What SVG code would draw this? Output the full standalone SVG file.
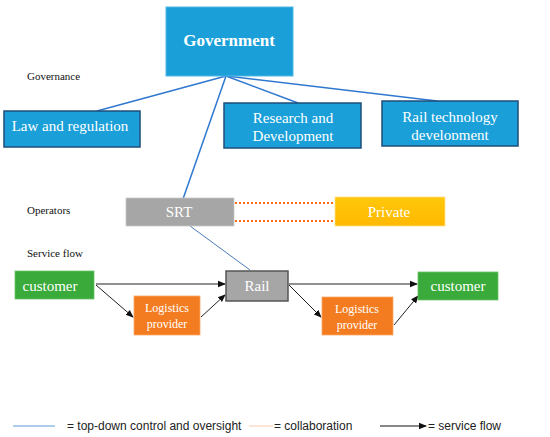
<svg xmlns="http://www.w3.org/2000/svg" width="550" height="437" viewBox="0 0 550 437">
<style>
.lbl{font-family:"Liberation Serif",serif;font-size:11px;fill:#111}
.nt{font-family:"Liberation Serif",serif;fill:#fff;text-anchor:middle}
.top{fill:#1a9fd8;stroke:#1f4e79;stroke-width:1.5}
.ctl{stroke:#2f78d0;stroke-width:1.5;fill:none}
.flow{stroke:#222;stroke-width:1;fill:none;marker-end:url(#ah)}
.leg{font-family:"Liberation Sans",Arial,sans-serif;font-size:12px;fill:#222}
</style>
<defs>
<marker id="ah" markerWidth="8" markerHeight="8" refX="7" refY="4" orient="auto" markerUnits="userSpaceOnUse">
<path d="M0,0.8 L8,4 L0,7.2 Z" fill="#111"/>
</marker>
<linearGradient id="gold" x1="0" y1="0" x2="0" y2="1">
<stop offset="0" stop-color="#ffc80a"/><stop offset="1" stop-color="#ffb800"/>
</linearGradient>
<clipPath id="clipRT"><rect x="382" y="101" width="136" height="39"/></clipPath>
</defs>
<rect width="550" height="437" fill="#fff"/>

<text class="lbl" x="27" y="80">Governance</text>
<text class="lbl" x="27" y="214">Operators</text>
<text class="lbl" x="27" y="257">Service flow</text>

<g id="connectors">
<line class="ctl" x1="226" y1="76" x2="97" y2="111"/>
<line class="ctl" x1="226" y1="76" x2="298" y2="103"/>
<line class="ctl" x1="226" y1="76" x2="437" y2="101"/>
<line class="ctl" x1="226" y1="76" x2="183" y2="199"/>
<line x1="190" y1="226" x2="250" y2="270" stroke="#4a7ab8" stroke-width="1"/>
<line x1="235" y1="203" x2="335" y2="203" stroke="#ff6a10" stroke-width="2" stroke-dasharray="2 2"/>
<line x1="235" y1="221" x2="335" y2="221" stroke="#ff6a10" stroke-width="2" stroke-dasharray="2 2"/>
<line class="flow" x1="96" y1="284" x2="225" y2="284"/>
<line class="flow" x1="96" y1="285" x2="133" y2="317"/>
<line class="flow" x1="201" y1="317" x2="225" y2="295"/>
<line class="flow" x1="289" y1="284" x2="417" y2="284"/>
<line class="flow" x1="289" y1="285" x2="321" y2="317"/>
<line class="flow" x1="394" y1="325" x2="418" y2="296"/>
</g>

<g id="government">
<rect x="166" y="7" width="127" height="69" fill="#1a9fd8" stroke="#4fb8e6" stroke-width="1"/>
<text class="nt" x="229" y="46" font-size="17" font-weight="bold">Government</text>
</g>
<g id="law">
<rect class="top" x="4" y="111" width="136" height="36"/>
<text class="nt" x="70" y="131" font-size="15">Law and regulation</text>
</g>
<g id="research">
<rect class="top" x="224" y="103" width="137" height="45"/>
<text class="nt" x="293" y="123" font-size="15">Research and</text>
<text class="nt" x="293" y="141" font-size="15">Development</text>
</g>
<g id="railtech">
<rect class="top" x="382" y="101" width="136" height="45"/>
<g clip-path="url(#clipRT)">
<text class="nt" x="450" y="122" font-size="15">Rail technology</text>
<text class="nt" x="450" y="140" font-size="15">development</text>
</g>
</g>
<g id="srt">
<rect x="126" y="198" width="108" height="28" fill="#a6a6a6" stroke="#c8c8c8" stroke-width="0.8"/>
<text class="nt" x="179" y="217" font-size="15">SRT</text>
</g>
<g id="private">
<rect x="335" y="197" width="110" height="29" fill="url(#gold)" stroke="#ffe08a" stroke-width="0.8"/>
<text class="nt" x="389" y="217" font-size="15">Private</text>
</g>
<g id="customer1">
<rect x="15" y="271" width="79" height="28" fill="#3aaa3a" stroke="#6cc46c" stroke-width="0.8"/>
<text class="nt" x="50" y="291" font-size="15">customer</text>
</g>
<g id="rail">
<rect x="226" y="271" width="62" height="30" fill="#a6a6a6" stroke="#555" stroke-width="1.5"/>
<text class="nt" x="257" y="291" font-size="15">Rail</text>
</g>
<g id="customer2">
<rect x="418" y="272" width="80" height="28" fill="#3aaa3a" stroke="#6cc46c" stroke-width="0.8"/>
<text class="nt" x="458" y="291" font-size="15">customer</text>
</g>
<g id="logistics1">
<rect x="134" y="296" width="66" height="39" fill="#f47c20" stroke="#f9a866" stroke-width="0.8"/>
<text class="nt" x="167" y="312" font-size="12">Logistics</text>
<text class="nt" x="167" y="328" font-size="12">provider</text>
</g>
<g id="logistics2">
<rect x="322" y="297" width="71" height="38" fill="#f47c20" stroke="#f9a866" stroke-width="0.8"/>
<text class="nt" x="357" y="313" font-size="12">Logistics</text>
<text class="nt" x="357" y="329" font-size="12">provider</text>
</g>

<g id="legend">
<line x1="13" y1="426" x2="55" y2="426" stroke="#5b9bd5" stroke-width="1"/>
<text class="leg" x="67" y="430">= top-down control and oversight</text>
<line x1="249" y1="426" x2="273" y2="426" stroke="#f8cbad" stroke-width="1"/>
<text class="leg" x="274" y="430">= collaboration</text>
<line x1="380" y1="426" x2="426" y2="426" stroke="#111" stroke-width="1" marker-end="url(#ah)"/>
<text class="leg" x="428" y="430">= service flow</text>
</g>
</svg>
